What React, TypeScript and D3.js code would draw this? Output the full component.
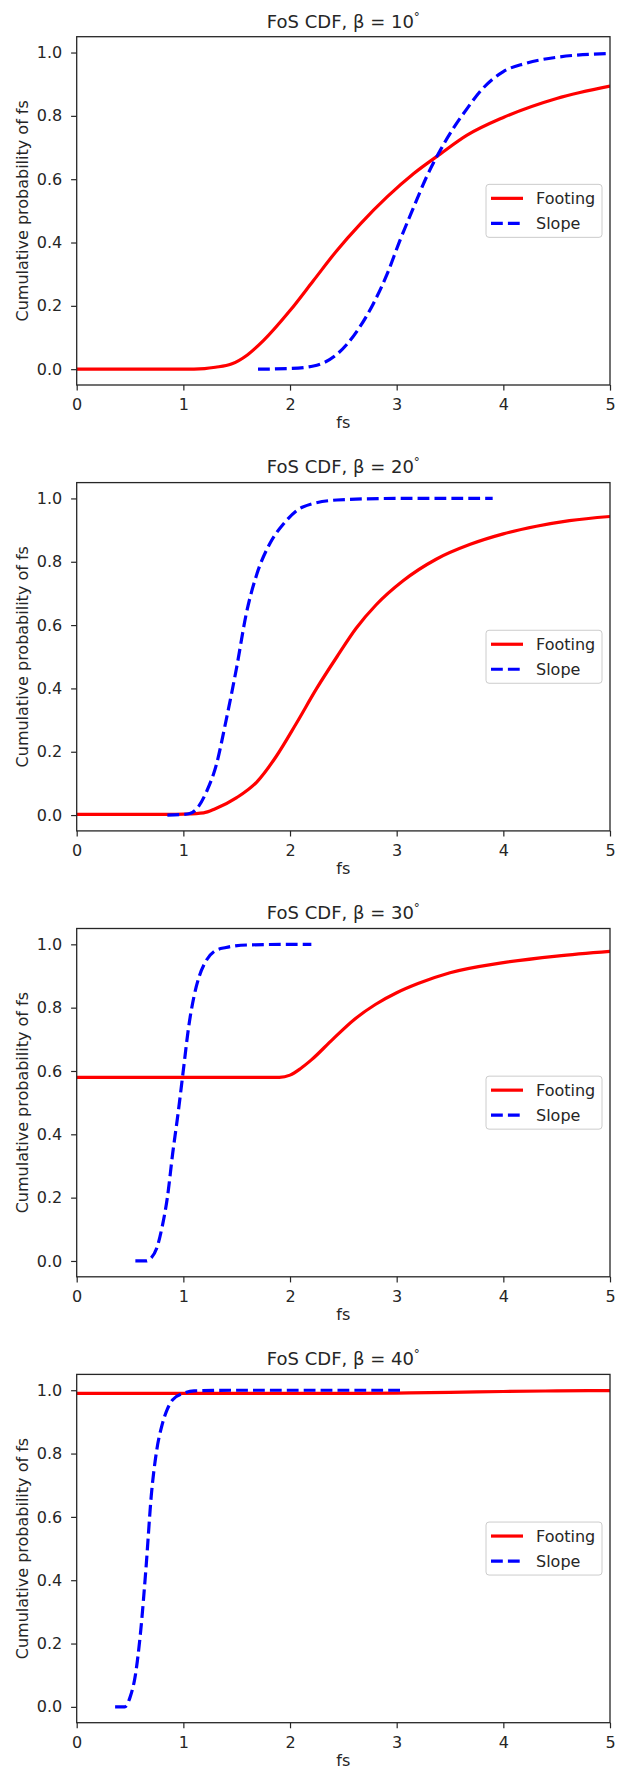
import React, { useEffect, useRef } from 'react';
import * as d3 from 'd3';

// panel titles (beta angle in degrees)
const betas = [10, 20, 30, 40];
const seriesNames = ['Footing', 'Slope'];
const xTicks = [0, 1, 2, 3, 4, 5];
const yTicks = [0, 0.2, 0.4, 0.6, 0.8, 1.0];

// beta = 10
const footingFs10 = [0, 1.0, 1.2, 1.3, 1.45, 1.6, 1.75, 2.0, 2.22, 2.44, 2.66, 2.91, 3.16, 3.41, 3.66, 4.0, 4.5, 5.0];
const footingP10 = [0, 0, 0.002, 0.006, 0.016, 0.045, 0.09, 0.185, 0.28, 0.375, 0.459, 0.544, 0.618, 0.68, 0.739, 0.795, 0.855, 0.894];
const slopeFs10 = [1.7, 2.0, 2.22, 2.44, 2.63, 2.78, 2.91, 3.03, 3.16, 3.28, 3.41, 3.53, 3.66, 3.79, 4.0, 4.2, 4.5, 5.0];
const slopeP10 = [0, 0.002, 0.01, 0.047, 0.121, 0.206, 0.3, 0.406, 0.512, 0.607, 0.692, 0.76, 0.823, 0.88, 0.94, 0.965, 0.985, 0.997];

// beta = 20
const footingFs20 = [0, 0.5, 0.87, 1.0, 1.19, 1.3, 1.5, 1.69, 1.87, 2.06, 2.25, 2.44, 2.62, 2.81, 3.06, 3.37, 3.69, 4.0, 4.31, 4.62, 5.0];
const footingP20 = [0.002, 0.002, 0.002, 0.003, 0.007, 0.02, 0.055, 0.105, 0.185, 0.29, 0.4, 0.5, 0.59, 0.665, 0.74, 0.808, 0.855, 0.888, 0.912, 0.93, 0.943];
const slopeFs20 = [0.85, 1.0, 1.06, 1.12, 1.22, 1.31, 1.4, 1.5, 1.59, 1.69, 1.81, 1.94, 2.12, 2.44, 3.0, 3.9];
const slopeP20 = [0, 0.002, 0.005, 0.018, 0.076, 0.16, 0.298, 0.467, 0.636, 0.762, 0.857, 0.92, 0.973, 0.995, 1.0, 1.0];

// beta = 30
const footingFs30 = [0, 1.0, 1.9, 2.0, 2.1, 2.2, 2.4, 2.6, 2.8, 3.0, 3.2, 3.5, 4.0, 4.5, 5.0];
const footingP30 = [0.58, 0.58, 0.58, 0.587, 0.608, 0.635, 0.7, 0.762, 0.81, 0.847, 0.876, 0.91, 0.942, 0.963, 0.978];
const slopeFs30 = [0.55, 0.65, 0.7, 0.75, 0.8, 0.85, 0.9, 0.95, 1.0, 1.05, 1.1, 1.15, 1.2, 1.3, 1.4, 1.6, 2.0, 2.2];
const slopeP30 = [0, 0, 0.01, 0.04, 0.106, 0.2, 0.34, 0.465, 0.603, 0.74, 0.836, 0.9, 0.94, 0.98, 0.99, 0.998, 1.0, 1.0];

// beta = 40
const footingFs40 = [0, 1, 2, 2.5, 3, 3.5, 4, 4.5, 5];
const footingP40 = [0.99, 0.99, 0.99, 0.99, 0.991, 0.993, 0.996, 0.998, 0.999];
const slopeFs40 = [0.36, 0.45, 0.5, 0.55, 0.6, 0.65, 0.7, 0.75, 0.8, 0.85, 0.9, 1.0, 1.1, 1.5, 2.0, 3.05];
const slopeP40 = [0, 0, 0.03, 0.1, 0.24, 0.44, 0.67, 0.81, 0.89, 0.94, 0.97, 0.99, 0.998, 1.0, 1.0, 1.0];

const panels = [
  { footing: [footingFs10, footingP10], slope: [slopeFs10, slopeP10] },
  { footing: [footingFs20, footingP20], slope: [slopeFs20, slopeP20] },
  { footing: [footingFs30, footingP30], slope: [slopeFs30, slopeP30] },
  { footing: [footingFs40, footingP40], slope: [slopeFs40, slopeP40] },
];

const W = 621;
const H = 1770;
const FONT = '"DejaVu Sans", sans-serif';
const INK = '#262626';

export default function App() {
  const ref = useRef<SVGSVGElement>(null);

  useEffect(() => {
    const svg = d3.select(ref.current);
    svg.selectAll('*').remove();

    const period = 445.9;
    const margin = { top: 36.7, left: 76.7, right: W - 610 };
    const plotH = 348.3;

    const x = d3.scaleLinear().domain([0, 5]).range([margin.left, W - margin.right]);
    const y = d3.scaleLinear().domain([-0.05, 1.05]).range([plotH, 0]);

    panels.forEach((p, i) => {
      const g = svg.append('g').attr('transform', `translate(0,${i * period})`);

      // title
      const title = g.append('text')
        .attr('x', (margin.left + W - margin.right) / 2)
        .attr('y', 27.5)
        .attr('text-anchor', 'middle')
        .attr('font-family', FONT)
        .attr('font-size', 18)
        .attr('fill', INK);
      title.append('tspan').text(`FoS CDF, β = ${betas[i]}`);
      title.append('tspan').attr('font-size', 12).attr('dy', -7).text('°');

      const plot = g.append('g').attr('transform', `translate(0,${margin.top})`);

      const clipId = `clip${i}`;
      plot.append('clipPath').attr('id', clipId)
        .append('rect')
        .attr('x', margin.left).attr('y', 0)
        .attr('width', W - margin.right - margin.left).attr('height', plotH);

      // axes
      plot.append('g')
        .attr('transform', `translate(0,${plotH})`)
        .call(d3.axisBottom(x).tickValues(xTicks).tickFormat(d3.format('d')).tickSize(5.6).tickPadding(8).tickSizeOuter(0))
        .call(a => a.select('.domain').remove())
        .call(a => a.selectAll('line').attr('stroke', INK).attr('stroke-width', 1.2))
        .call(a => a.selectAll('text').attr('font-family', FONT).attr('font-size', 16).attr('fill', INK));

      plot.append('g')
        .attr('transform', `translate(${margin.left},0)`)
        .call(d3.axisLeft(y).tickValues(yTicks).tickFormat(d3.format('.1f')).tickSize(5.6).tickPadding(8.8).tickSizeOuter(0))
        .call(a => a.select('.domain').remove())
        .call(a => a.selectAll('line').attr('stroke', INK).attr('stroke-width', 1.2))
        .call(a => a.selectAll('text').attr('font-family', FONT).attr('font-size', 16).attr('fill', INK));

      // lines
      const line = d3.line<[number, number]>()
        .x(d => x(d[0]))
        .y(d => y(d[1]))
        .curve(d3.curveMonotoneX);

      const toPts = (s: number[][]) => s[0].map((v, k) => [v, s[1][k]] as [number, number]);

      const lines = plot.append('g').attr('clip-path', `url(#${clipId})`).attr('fill', 'none');
      lines.append('path')
        .attr('d', line(toPts(p.footing)))
        .attr('stroke', '#ff0000')
        .attr('stroke-width', 3.2);
      lines.append('path')
        .attr('d', line(toPts(p.slope)))
        .attr('stroke', '#0000ff')
        .attr('stroke-width', 3.2)
        .attr('stroke-dasharray', '11.8,5.1');

      // frame
      plot.append('rect')
        .attr('x', margin.left).attr('y', 0)
        .attr('width', W - margin.right - margin.left).attr('height', plotH)
        .attr('fill', 'none').attr('stroke', INK).attr('stroke-width', 1.3);

      // axis labels
      plot.append('text')
        .attr('x', (margin.left + W - margin.right) / 2)
        .attr('y', plotH + 43)
        .attr('text-anchor', 'middle')
        .attr('font-family', FONT).attr('font-size', 16).attr('fill', INK)
        .text('fs');
      plot.append('text')
        .attr('transform', `translate(28,${plotH / 2}) rotate(-90)`)
        .attr('text-anchor', 'middle')
        .attr('font-family', FONT).attr('font-size', 16).attr('fill', INK)
        .text('Cumulative probability of fs');

      // legend
      const cy = plotH / 2;
      const lg = plot.append('g');
      lg.append('rect')
        .attr('x', 486).attr('y', cy - 26.5)
        .attr('width', 116).attr('height', 53)
        .attr('rx', 3)
        .attr('fill', 'white').attr('fill-opacity', 0.8)
        .attr('stroke', '#cccccc').attr('stroke-width', 1);
      seriesNames.forEach((name, k) => {
        const ry = cy - 12.5 + k * 25;
        lg.append('line')
          .attr('x1', 491).attr('x2', 523)
          .attr('y1', ry).attr('y2', ry)
          .attr('stroke', k === 0 ? '#ff0000' : '#0000ff')
          .attr('stroke-width', 3.2)
          .attr('stroke-dasharray', k === 0 ? null : '11.8,5.1');
        lg.append('text')
          .attr('x', 536).attr('y', ry).attr('dy', '0.35em')
          .attr('font-family', FONT).attr('font-size', 16).attr('fill', INK)
          .text(name);
      });
    });
  }, []);

  return (
    <div style={{ position: 'absolute', left: 0, top: 0 }}>
      <svg ref={ref} width={W} height={H} style={{ display: 'block', background: 'white' }} />
    </div>
  );
}
